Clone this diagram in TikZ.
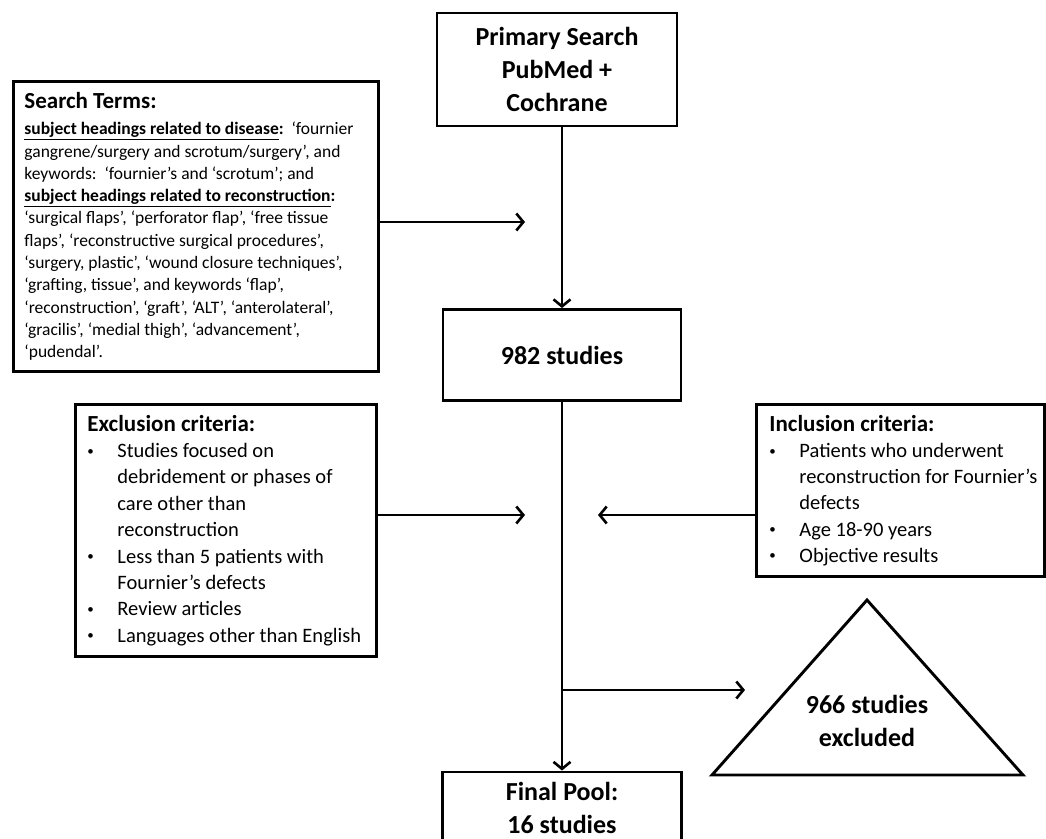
\documentclass[tikz,border=0pt]{standalone}
\usepackage{fontspec}
\setmainfont{Carlito}
\usetikzlibrary{arrows.meta}
\newcommand\bitem{\makebox[30pt][l]{\raisebox{0.12em}{\fontsize{13}{13}\selectfont •}}}
\newcommand\bcont{\hspace*{30pt}}
\begin{document}
\begin{tikzpicture}[x=1pt,y=-1pt]
\tikzset{
  box/.style={draw, line width=2.9pt, inner sep=0pt, align=center},
  txtbox/.style={draw, line width=2.9pt, inner ysep=0pt, align=flush left},
  flow/.style={line width=2.6pt, -{Straight Barb[length=7pt,width=17pt]}},
  big/.style={font=\fontsize{26}{33}\selectfont\bfseries},
}
\useasboundingbox (0,0) rectangle (1046,838);
\fill[white] (0,0) rectangle (1046,838);

% top box
\node[box, big, minimum width=240pt, minimum height=113pt] (prim) at (557,69.5)
  {Primary Search\\PubMed +\\Cochrane};

% 982 studies
\node[box, big, minimum width=238pt, minimum height=91pt] (s982) at (562,355) {982 studies};

% final pool
\node[box, big, minimum width=239pt, minimum height=72pt] (final) at (562,808)
  {Final Pool:\\16 studies};

% search terms
\node[txtbox, anchor=north west, inner xsep=11pt, text width=343pt, minimum height=290pt,
  font=\fontsize{17.5}{22.3}\selectfont] (search) at (12,80)
  {{\fontsize{23}{26}\selectfont\bfseries Search Terms:}\\[4pt]
  \mbox{\underline{\textbf{subject headings related to disease}}\textbf{:}\ \ ‘fournier}\\
  \mbox{gangrene/surgery and scrotum/surgery’, and}\\
  \mbox{keywords:\ \ ‘fournier’s and ‘scrotum’; and}\\
  \mbox{\underline{\textbf{subject headings related to reconstruction}}\textbf{:}}\\
  \mbox{‘surgical flaps’, ‘perforator flap’, ‘free tissue}\\
  \mbox{flaps’, ‘reconstructive surgical procedures’,}\\
  \mbox{‘surgery, plastic’, ‘wound closure techniques’,}\\
  \mbox{‘grafting, tissue’, and keywords ‘flap’,}\\
  \mbox{‘reconstruction’, ‘graft’, ‘ALT’, ‘anterolateral’,}\\
  \mbox{‘gracilis’, ‘medial thigh’, ‘advancement’,}\\
  ‘pudendal’.};

% exclusion criteria
\node[txtbox, anchor=north west, inner xsep=12pt, text width=277pt, minimum height=252pt,
  font=\fontsize{20.5}{26.4}\selectfont] (excl) at (74,403)
  {{\fontsize{23}{26}\selectfont\bfseries Exclusion criteria:}\\
  \bitem Studies focused on\\
  \bcont debridement or phases of\\
  \bcont care other than\\
  \bcont reconstruction\\
  \bitem Less than 5 patients with\\
  \bcont Fournier’s defects\\
  \bitem Review articles\\
  \mbox{\bitem Languages other than English}};

% inclusion criteria
\node[txtbox, anchor=north west, inner xsep=13pt, text width=262pt, minimum height=172pt,
  font=\fontsize{20.5}{26.2}\selectfont] (incl) at (755,403)
  {{\fontsize{23}{26}\selectfont\bfseries Inclusion criteria:}\\
  \bitem Patients who underwent\\
  \mbox{\bcont reconstruction for Fournier’s}\\
  \bcont defects\\
  \bitem Age 18-90 years\\
  \bitem Objective results};

% triangle
\coordinate (tapex) at (867,600);
\coordinate (tleft) at (712,775);
\coordinate (tright) at (1023,775);
\draw[line width=2.9pt, line join=miter] (tapex) -- (tleft) -- (tright) -- cycle;
\node[big, align=center] (exclnum) at (867,721) {966 studies\\excluded};

% connectors
\coordinate (a1) at (525,222);
\coordinate (a2) at (525,515);
\coordinate (a3) at (598,515);
\coordinate (a4) at (745,690);
\draw[flow] (s982.north |- prim.south) -- (s982.north);
\draw[flow] (search.east |- a1) -- (a1);
\draw[flow] (excl.east |- a2) -- (a2);
\draw[flow] (incl.west |- a3) -- (a3);
\draw[flow] (s982.south) -- (final.north);
\draw[flow] (s982.south |- a4) -- (a4);
\end{tikzpicture}
\end{document}
